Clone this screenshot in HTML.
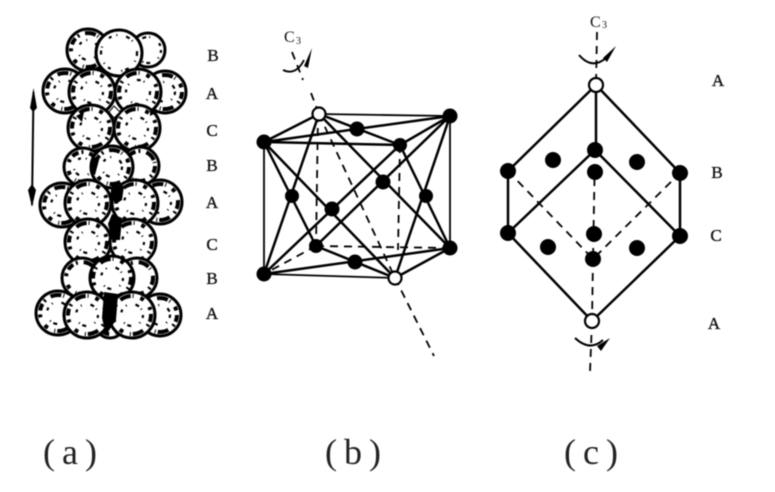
<!DOCTYPE html>
<html><head><meta charset="utf-8"><style>
html,body{margin:0;padding:0;background:#fff;width:775px;height:492px;overflow:hidden}
svg{display:block;filter:blur(.45px)}
text{font-family:"Liberation Serif",serif;fill:#111}
.s{font-size:17px;text-anchor:middle;stroke:#111;stroke-width:.35}
.b{font-size:36px;text-anchor:middle;fill:#222}
.l{stroke:#000;stroke-width:2.5;fill:none}
.t{stroke:#000;stroke-width:1.8;fill:none}
.d{stroke:#000;stroke-width:1.8;fill:none;stroke-dasharray:8 6}
.o{fill:#fff;stroke:#000;stroke-width:2.2}
.p .a{fill:#fff;stroke:#000;stroke-width:3}
.p .r{fill:none;stroke:#000;stroke-width:4;stroke-dasharray:7 3 2 6 11 2 1 7 4 9 3 4}
.p .q{fill:none;stroke:#000;stroke-width:2.2;stroke-dasharray:3 5 1 9 4 3 1 11}
</style></head><body>
<svg width="775" height="492" viewBox="0 0 775 492" xmlns="http://www.w3.org/2000/svg">
<g class="p">
<!-- row 1 -->
<circle class="a" cx="88" cy="50" r="21"/><circle class="r" cx="88" cy="50" r="17"/><circle class="q" cx="88" cy="50" r="10"/>
<circle class="a" cx="148" cy="50" r="17"/><circle class="q" cx="148" cy="50" r="13"/>
<circle class="a" cx="119" cy="53" r="23"/><circle class="q" cx="119" cy="53" r="18"/>
<!-- row 2 -->
<circle class="a" cx="65" cy="91" r="22"/><circle class="r" cx="65" cy="91" r="18"/><circle class="q" cx="65" cy="91" r="11"/>
<circle class="a" cx="165" cy="92" r="21"/><circle class="r" cx="165" cy="92" r="17"/><circle class="q" cx="165" cy="92" r="10"/>
<circle class="a" cx="92" cy="92" r="23"/><circle class="r" cx="92" cy="92" r="19"/><circle class="q" cx="92" cy="92" r="11"/>
<circle class="a" cx="138" cy="92" r="23"/><circle class="r" cx="138" cy="92" r="19"/><circle class="q" cx="138" cy="92" r="12"/>
<!-- row 3 -->
<circle class="a" cx="91" cy="128" r="23"/><circle class="r" cx="91" cy="128" r="19"/><circle class="q" cx="91" cy="128" r="11"/>
<circle class="a" cx="137" cy="128" r="23"/><circle class="r" cx="137" cy="128" r="19"/><circle class="q" cx="137" cy="128" r="11"/>
<!-- row 4 -->
<circle class="a" cx="83" cy="167" r="19"/><circle class="r" cx="83" cy="167" r="15"/><circle class="q" cx="83" cy="167" r="9"/>
<circle class="a" cx="140" cy="166" r="19"/><circle class="r" cx="140" cy="166" r="15"/>
<circle class="a" cx="112" cy="167" r="21"/><circle class="r" cx="112" cy="167" r="17"/><circle class="q" cx="112" cy="167" r="10"/>
<!-- row 5 -->
<circle class="a" cx="62" cy="205" r="22"/><circle class="r" cx="62" cy="205" r="18"/><circle class="q" cx="62" cy="205" r="11"/>
<circle class="a" cx="160" cy="202" r="22"/><circle class="r" cx="160" cy="202" r="18"/><circle class="q" cx="160" cy="202" r="11"/>
<circle class="a" cx="88" cy="203" r="23"/><circle class="r" cx="88" cy="203" r="19"/><circle class="q" cx="88" cy="203" r="11"/>
<circle class="a" cx="135" cy="203" r="23"/><circle class="r" cx="135" cy="203" r="19"/><circle class="q" cx="135" cy="203" r="11"/>
<!-- row 6 -->
<circle class="a" cx="88" cy="242" r="23"/><circle class="r" cx="88" cy="242" r="19"/><circle class="q" cx="88" cy="242" r="11"/>
<circle class="a" cx="133" cy="242" r="23"/><circle class="r" cx="133" cy="242" r="19"/><circle class="q" cx="133" cy="242" r="11"/>
<!-- row 7 -->
<circle class="a" cx="82" cy="278" r="20"/><circle class="r" cx="82" cy="278" r="16"/>
<circle class="a" cx="137" cy="278" r="20"/><circle class="r" cx="137" cy="278" r="16"/>
<circle class="a" cx="112" cy="278" r="22"/><circle class="r" cx="112" cy="278" r="19"/><circle class="q" cx="112" cy="278" r="11"/>
<!-- row 8 -->
<circle class="a" cx="110" cy="323" r="15"/><circle class="r" cx="110" cy="323" r="11"/>
<circle class="a" cx="58" cy="313" r="22"/><circle class="r" cx="58" cy="313" r="18"/><circle class="q" cx="58" cy="313" r="11"/>
<circle class="a" cx="160" cy="315" r="21"/><circle class="r" cx="160" cy="315" r="17"/><circle class="q" cx="160" cy="315" r="10"/>
<circle class="a" cx="87" cy="315" r="23"/><circle class="r" cx="87" cy="315" r="19"/><circle class="q" cx="87" cy="315" r="11"/>
<circle class="a" cx="132" cy="315" r="23"/><circle class="r" cx="132" cy="315" r="19"/><circle class="q" cx="132" cy="315" r="11"/>
</g>
<!-- dark clumps -->
<path d="M112 184L124 186L122 200L116 204L110 196Z" fill="#000"/>
<path d="M112 214L122 218L120 240L112 240L108 224Z" fill="#000"/>
<path d="M92 155L99 160L95 175L90 172Z" fill="#000"/>
<path d="M104 292L118 294L116 320L106 335L102 318Z" fill="#000"/>
<path d="M76 116L84 112L82 122Z M150 108L158 112L150 116Z" fill="#000"/>
<path d="M114 106L120 112L114 118L109 112Z" fill="#fff" stroke="#000"/>
<!-- double arrow -->
<path d="M33.500 92L32 205" stroke="#000" stroke-width="2" fill="none"/>
<path d="M33.500 88L37 108L33 112L30 108Z M32 207L28 190L32 184L36 190Z" fill="#000"/>
<text class="s" x="213" y="61">B</text><text class="s" x="212" y="99">A</text><text class="s" x="212" y="136">C</text><text class="s" x="212" y="171">B</text><text class="s" x="212" y="208">A</text><text class="s" x="212" y="250">C</text><text class="s" x="212" y="284">B</text><text class="s" x="212" y="319">A</text>

<!-- panel b -->
<path class="d" d="M292 52L303 80M311 93L319 114M319 114L395 278M395 278L434 356"/>
<path class="d" d="M318 114L316 246M400 145L398 250M316 246L450 248M316 246L264 274"/>
<path class="t" d="M264 142V274M450 116V248M319 114L450 116M264 274L395 278"/>
<path class="l" d="M264 142L400 145L450 116M264 142L319 114L400 145M319 114L264 274M319 114L450 248M264 142L395 278M264 142L316 246L395 278M264 274L400 145M316 246L450 116M264 274L450 248L395 278M264 142L450 116M400 145L450 248M450 116L395 278"/>
<path d="M283 70Q296 76 304 60" class="l" style="stroke-width:1.8"/>
<path d="M312 48L304 66L308 68Z" fill="#000"/>
<circle cx="264" cy="142" r="7.500"/><circle cx="450" cy="116" r="7.500"/><circle cx="400" cy="145" r="7"/>
<circle cx="264" cy="274" r="7.500"/><circle cx="450" cy="248" r="7.500"/><circle cx="316" cy="246" r="7"/>
<circle cx="357" cy="129" r="7.500"/><circle cx="292" cy="196" r="7"/><circle cx="426" cy="196" r="7"/>
<circle cx="332" cy="209" r="7.500"/><circle cx="383" cy="182" r="7.500"/><circle cx="355" cy="262" r="7.500"/>
<circle class="o" cx="319" cy="114" r="6.500"/><circle class="o" cx="395" cy="278" r="6.500"/>
<text x="284" y="42" font-size="16">C</text><text x="296" y="44" font-size="10">3</text>

<!-- panel c -->
<path class="d" d="M597 32L596 85M592 321L590 372M595 150L593 259"/>
<path class="d" d="M508 171L593 259L680 173"/>
<path class="d" d="M593 259L592 321"/>
<path class="l" d="M596 85L508 171V233L592 321L680 236V173L596 85M596 85V150M508 233L595 150L680 236"/>
<path class="l" style="stroke-width:2" d="M579 55Q592 70 606 58M575 338Q590 352 603 340"/>
<path d="M616 46L603 58L607 62Z M610 338L597 346L601 351Z" fill="#000"/>
<circle cx="508" cy="171" r="8"/><circle cx="508" cy="233" r="8"/><circle cx="680" cy="173" r="8"/><circle cx="680" cy="236" r="8"/>
<circle cx="595" cy="150" r="8"/><circle cx="593" cy="259" r="8"/>
<circle cx="553" cy="160" r="8"/><circle cx="637" cy="162" r="8"/><circle cx="595" cy="172" r="8"/>
<circle cx="594" cy="234" r="8"/><circle cx="548" cy="247" r="8"/><circle cx="637" cy="248" r="8"/>
<circle class="o" cx="596" cy="85" r="7"/><circle class="o" cx="592" cy="321" r="7"/>
<text x="590" y="27" font-size="16">C</text><text x="602" y="28" font-size="10">3</text>
<text class="s" x="718" y="86">A</text><text class="s" x="717" y="178">B</text><text class="s" x="716" y="241">C</text><text class="s" x="714" y="329">A</text>

<!-- captions -->
<text class="b" x="49" y="464">(</text><text class="b" x="70" y="464">a</text><text class="b" x="91" y="464">)</text>
<text class="b" x="331" y="464">(</text><text class="b" x="353" y="464">b</text><text class="b" x="375" y="464">)</text>
<text class="b" x="570" y="464">(</text><text class="b" x="591" y="464">c</text><text class="b" x="612" y="464">)</text>
</svg>
</body></html>
